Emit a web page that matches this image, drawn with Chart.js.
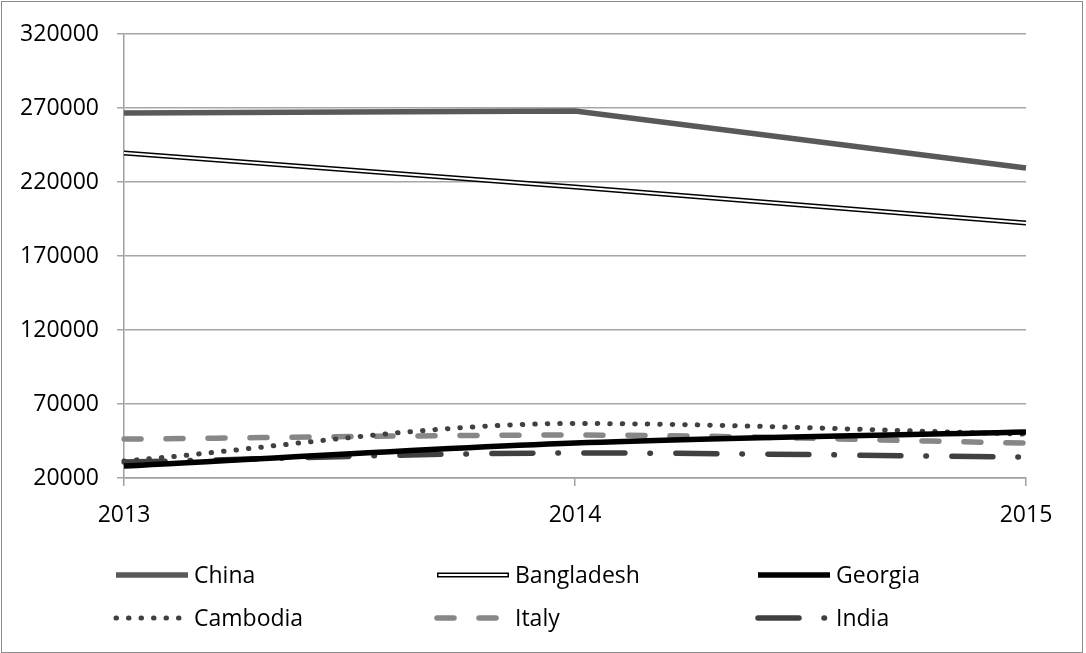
<!DOCTYPE html>
<html>
<head>
<meta charset="utf-8">
<script src="https://cdn.jsdelivr.net/npm/chart.js@4.4.1/dist/chart.umd.min.js"></script>
<style>
  html, body { margin: 0; padding: 0; background: #fff; }
  #wrap { position: relative; width: 1086px; height: 653px; }
  #frame {
    position: absolute; left: 1px; top: 1px; width: 1080px; height: 650px;
    border: 1px solid #8c8c8c; pointer-events: none;
  }
</style>
</head>
<body>
<div id="wrap">
  <canvas id="trend" width="1086" height="653"></canvas>
  <div id="frame"></div>
</div>
<script>
const years = ["2013", "2014", "2015"];

const china      = [266600, 268000, 229500];
const bangladesh = [239600, 216600, 192300];
const georgia    = [28100, 43600, 51100];
const cambodia   = [31500, 56800, 49700];
const italy      = [46300, 49000, 43600];
const india      = [30800, 36900, 34200];

const FONT = { family: "'Open Sans', 'Noto Sans', sans-serif", size: 23 };

// draws the 3-column legend under the x axis, reusing each dataset's stroke style
const gridLegend = {
  id: "gridLegend",
  afterDraw(chart) {
    const ctx = chart.ctx;
    const area = chart.chartArea;
    const items = chart.data.datasets.filter(d => !d.helper);
    const colW = 321, sampleW = 72;
    items.forEach((ds, i) => {
      const col = i % 3, row = Math.floor(i / 3);
      const x0 = area.left - 8 + col * colW;
      const y = area.bottom + 97 + row * 43;
      ctx.save();
      ctx.lineWidth = ds.borderWidth;
      ctx.strokeStyle = ds.borderColor;
      ctx.lineCap = ds.borderCapStyle || "butt";
      ctx.setLineDash(ds.borderDash || []);
      ctx.beginPath();
      ctx.moveTo(x0, y);
      ctx.lineTo(x0 + sampleW, y);
      ctx.stroke();
      if (ds.innerColor) {
        ctx.setLineDash([]);
        ctx.lineWidth = ds.innerWidth;
        ctx.strokeStyle = ds.innerColor;
        ctx.beginPath();
        ctx.moveTo(x0 + 1.5, y);
        ctx.lineTo(x0 + sampleW - 1.5, y);
        ctx.stroke();
      }
      ctx.fillStyle = "#000";
      ctx.font = FONT.size + "px " + FONT.family;
      ctx.textBaseline = "middle";
      ctx.textAlign = "left";
      ctx.fillText(ds.label, x0 + sampleW + 6, y + 1);
      ctx.restore();
    });
  }
};

const smooth = { cubicInterpolationMode: "monotone" };

new Chart(document.getElementById("trend"), {
  type: "line",
  data: {
    labels: years,
    datasets: [
      { label: "China", data: china, borderColor: "#595959", borderWidth: 5.5, tension: 0 },
      { label: "Bangladesh", data: bangladesh, borderColor: "#000", borderWidth: 5, tension: 0,
        innerColor: "#fff", innerWidth: 2 },
      Object.assign({ label: "Georgia", data: georgia, borderColor: "#000", borderWidth: 5.5 }, smooth),
      Object.assign({ label: "Cambodia", data: cambodia, borderColor: "#404040", borderWidth: 5,
        borderDash: [0.5, 12], borderCapStyle: "round" }, smooth),
      Object.assign({ label: "Italy", data: italy, borderColor: "#878787", borderWidth: 5.5,
        borderDash: [17, 25], borderCapStyle: "round" }, smooth),
      Object.assign({ label: "India", data: india, borderColor: "#404040", borderWidth: 5.5,
        borderDash: [41, 25, 0.5, 25.5], borderCapStyle: "round" }, smooth),
      // white core of the Bangladesh double line
      { label: "Bangladesh core", data: bangladesh, borderColor: "#fff", borderWidth: 2,
        tension: 0, helper: true, order: -1 }
    ].map(d => Object.assign({ pointRadius: 0, pointHoverRadius: 0, fill: false }, d))
  },
  options: {
    responsive: false,
    animation: false,
    events: [],
    layout: { padding: { left: 4, top: 34, right: 60, bottom: 115 } },
    plugins: {
      legend: { display: false },
      tooltip: { enabled: false }
    },
    scales: {
      x: {
        offset: false,
        grid: { drawOnChartArea: false, tickLength: 8, color: "#a0a0a0", lineWidth: 1.5 },
        border: { color: "#a0a0a0", width: 1.5 },
        ticks: { color: "#000", font: FONT, padding: 16, maxRotation: 0 },
        afterFit(s) { s.height = 60; }
      },
      y: {
        min: 20000,
        max: 320000,
        grid: { color: "#a6a6a6", lineWidth: 1.5, tickLength: 7 },
        border: { color: "#a0a0a0", width: 1.5 },
        ticks: { stepSize: 50000, color: "#000", font: FONT, padding: 18,
                 callback: v => String(v) },
        afterFit(s) { s.width = 120; }
      }
    }
  },
  plugins: [gridLegend]
});
</script>
</body>
</html>
